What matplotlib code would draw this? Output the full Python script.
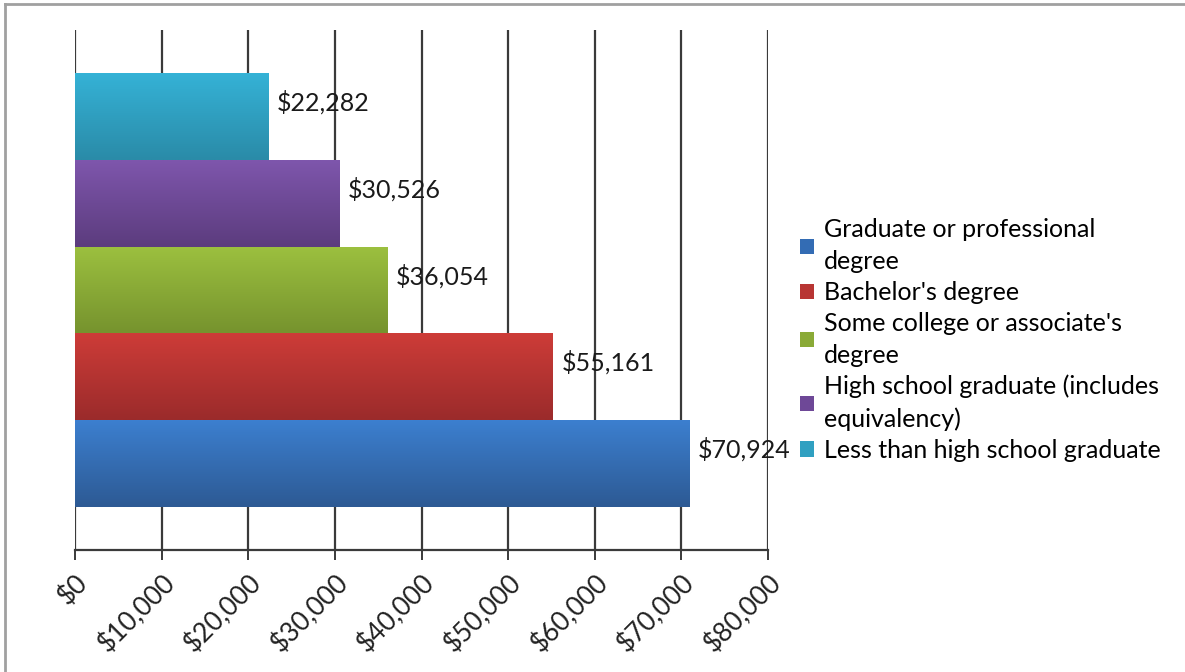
import numpy as np
import matplotlib
matplotlib.use("Agg")
import matplotlib.pyplot as plt
from matplotlib.lines import Line2D
from matplotlib.patches import Patch
from matplotlib.ticker import FuncFormatter
from matplotlib.colors import to_rgb

plt.rcParams['font.family'] = ['Lato', 'DejaVu Sans']

# data (bottom bar first)
categories = ["Graduate or professional\ndegree",
              "Bachelor's degree",
              "Some college or associate's\ndegree",
              "High school graduate (includes\nequivalency)",
              "Less than high school graduate"]
earnings = [70924, 55161, 36054, 30526, 22282]
tick_values = [0, 10000, 20000, 30000, 40000, 50000, 60000, 70000, 80000]

# top / bottom shade of each bar
top_colors = ['#3C7FCF', '#CD3C38', '#9CC03F', '#7E56AC', '#35B2D6']
bottom_colors = ['#2D5A94', '#9B2B2B', '#76932E', '#5C3C7E', '#2A8BA8']
legend_colors = ['#336CB4', '#B83533', '#8AAA37', '#6E4897', '#30A0C1']

fig = plt.figure(figsize=(11.85, 6.72), dpi=100)
ax = fig.add_axes([75/1185, 1 - 550/672, (768 - 75)/1185, (550 - 30)/672])

ypos = np.arange(len(earnings))
bars = ax.barh(ypos, earnings, height=1.0, color='none', edgecolor='none', zorder=3)

for bar, c1, c2 in zip(bars, top_colors, bottom_colors):
    t = np.linspace(0, 1, 64)[:, None]
    grad = (1 - t) * np.array(to_rgb(c1)) + t * np.array(to_rgb(c2))
    x0, y0 = bar.get_x(), bar.get_y()
    im = ax.imshow(grad[:, None, :], extent=(x0, x0 + bar.get_width(), y0, y0 + bar.get_height()),
                   origin='upper', aspect='auto', zorder=3, interpolation='bilinear')
    im.set_clip_path(bar)

for y, v in zip(ypos, earnings):
    ax.text(v + 1000, y + 0.16, "${:,}".format(v), va='center', ha='left',
            fontsize=18, color='#1a1a1a', zorder=4)

ax.set_xlim(0, 80000)
ax.set_ylim(-1, 5)
ax.set_xticks(tick_values)
ax.xaxis.set_major_formatter(FuncFormatter(lambda v, p: "${:,.0f}".format(v)))
ax.set_yticks([])
ax.grid(axis='x', color='#3a3a3a', linewidth=1.6, zorder=1)
ax.set_axisbelow(True)
for s in ['top', 'right', 'left']:
    ax.spines[s].set_visible(False)
ax.spines['bottom'].set_color('#3a3a3a')
ax.spines['bottom'].set_linewidth(1.6)
ax.tick_params(axis='x', length=7, width=1.4, color='#3a3a3a', labelsize=19,
               labelcolor='#222222', pad=7)
for lab in ax.get_xticklabels():
    lab.set_rotation(45)
    lab.set_ha('right')
    lab.set_va('top')
    lab.set_rotation_mode('anchor')

handles = [Patch(facecolor=c, edgecolor='none') for c in legend_colors]
leg = fig.legend(handles, categories, loc='center left', bbox_to_anchor=(790/1185, 0.494),
                 frameon=False, fontsize=18, handlelength=0.55, handleheight=0.55,
                 handletextpad=0.4, labelspacing=0.32, borderaxespad=0)
for txt in leg.get_texts():
    txt.set_linespacing(1.46)

# frame lines along top and left edge
fig.add_artist(Line2D([5/1185, 1], [1 - 4/672, 1 - 4/672], color='#a0a0a0', linewidth=2,
                      transform=fig.transFigure))
fig.add_artist(Line2D([5/1185, 5/1185], [0, 1 - 4/672], color='#a0a0a0', linewidth=2,
                      transform=fig.transFigure))

fig.savefig('out.png', dpi=100)
